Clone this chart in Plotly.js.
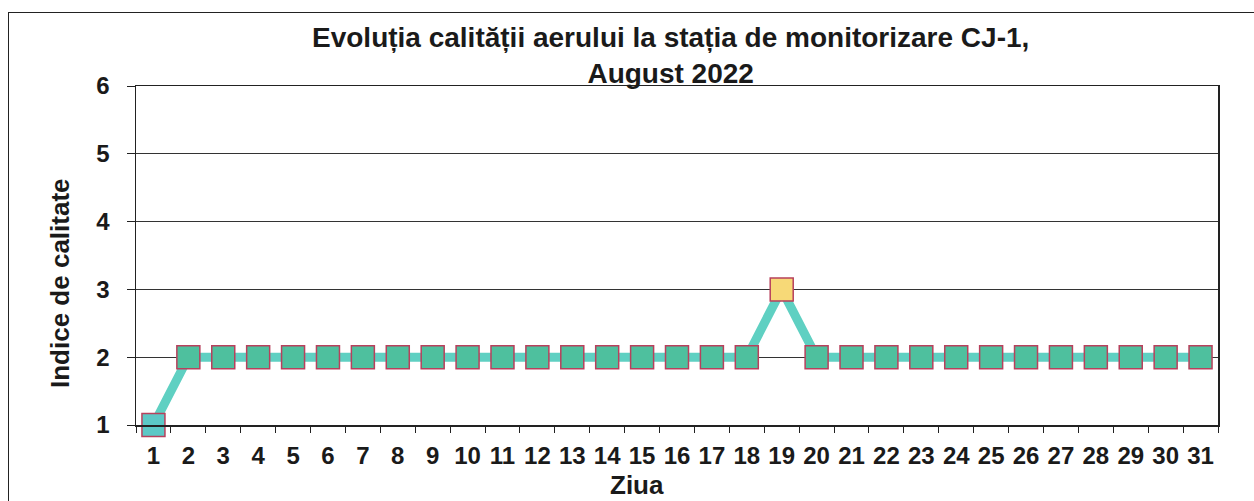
<!DOCTYPE html>
<html>
<head>
<meta charset="utf-8">
<script src="https://cdn.plot.ly/plotly-3.0.1.min.js"></script>
<style>
    html, body { margin: 0; padding: 0; background: #fff; }
    #wrap { position: relative; width: 1254px; height: 501px; overflow: hidden; }
    #chart { width: 1254px; height: 501px; }
    #frame { position: absolute; left: 8px; top: 12px; width: 1300px; height: 600px; border: 1.5px solid #222; pointer-events: none; }
</style>
</head>
<body>
<div id="wrap">
    <div id="chart"></div>
    <div id="frame"></div>
</div>
<script>
    // Days of August 2022 and the daily air quality index
    const days = [1,2,3,4,5,6,7,8,9,10,11,12,13,14,15,16,17,18,19,20,21,22,23,24,25,26,27,28,29,30,31];
    const indexValues = [1,2,2,2,2,2,2,2,2,2,2,2,2,2,2,2,2,2,3,2,2,2,2,2,2,2,2,2,2,2,2];
    const yTicks = [1, 2, 3, 4, 5, 6];

    // Marker colour depends on the index class
    const classColors = { 1: '#5cc8c6', 2: '#4ec09e', 3: '#f7d977' };
    const markerColors = indexValues.map(v => classColors[v]);

    const fontFamily = 'Liberation Sans, Arial, sans-serif';
    const textColor = '#1a1a1a';

    const trace = {
        x: days,
        y: indexValues,
        type: 'scatter',
        mode: 'lines+markers',
        cliponaxis: false,
        line: { color: '#5fd0c2', width: 9 },
        marker: {
            symbol: 'square',
            size: 23,
            color: markerColors,
            line: { color: '#b8405c', width: 1.5 }
        },
        showlegend: false,
        hoverinfo: 'x+y'
    };

    const layout = {
        width: 1254,
        height: 501,
        paper_bgcolor: '#ffffff',
        plot_bgcolor: '#ffffff',
        margin: { t: 86, b: 76, l: 136, r: 36 },
        xaxis: {
            range: [days[0] - 0.5, days[days.length - 1] + 0.5],
            tickvals: days,
            ticks: '',
            minor: { ticks: 'outside', ticklen: 6, tick0: 0.5, dtick: 1, tickcolor: '#222', showgrid: false },
            tickangle: 0,
            showline: true,
            linecolor: '#222',
            linewidth: 1.5,
            mirror: true,
            showgrid: false,
            zeroline: false,
            ticklabelstandoff: 9,
            tickfont: { family: fontFamily, size: 24, color: textColor, weight: 'bold' },
            fixedrange: true
        },
        yaxis: {
            range: [1, 6],
            tickvals: yTicks,
            ticks: 'outside',
            ticklen: 8,
            tickcolor: '#222',
            showline: true,
            linecolor: '#222',
            linewidth: 1.5,
            mirror: true,
            showgrid: true,
            gridcolor: '#333',
            gridwidth: 1,
            zeroline: false,
            ticklabelstandoff: 12,
            tickfont: { family: fontFamily, size: 24, color: textColor, weight: 'bold' },
            fixedrange: true
        },
        annotations: [
            {
                text: '<b>Evoluția calității aerului la stația de monitorizare CJ-1,<br>August 2022</b>',
                xref: 'paper', yref: 'paper',
                x: 0.5, y: 1, xanchor: 'center', yanchor: 'bottom',
                xshift: -7, yshift: -5,
                showarrow: false,
                font: { family: fontFamily, size: 28, color: textColor }
            },
            {
                text: '<b>Indice de calitate</b>',
                xref: 'paper', yref: 'paper',
                x: -0.0702, y: 0.419, xanchor: 'center', yanchor: 'middle',
                textangle: -90,
                showarrow: false,
                font: { family: fontFamily, size: 26, color: textColor }
            },
            {
                text: '<b>Ziua</b>',
                xref: 'paper', yref: 'paper',
                x: 0.463, y: -0.178, xanchor: 'center', yanchor: 'middle',
                showarrow: false,
                font: { family: fontFamily, size: 26, color: textColor }
            }
        ]
    };

    Plotly.newPlot('chart', [trace], layout, { staticPlot: true });
</script>
</body>
</html>
